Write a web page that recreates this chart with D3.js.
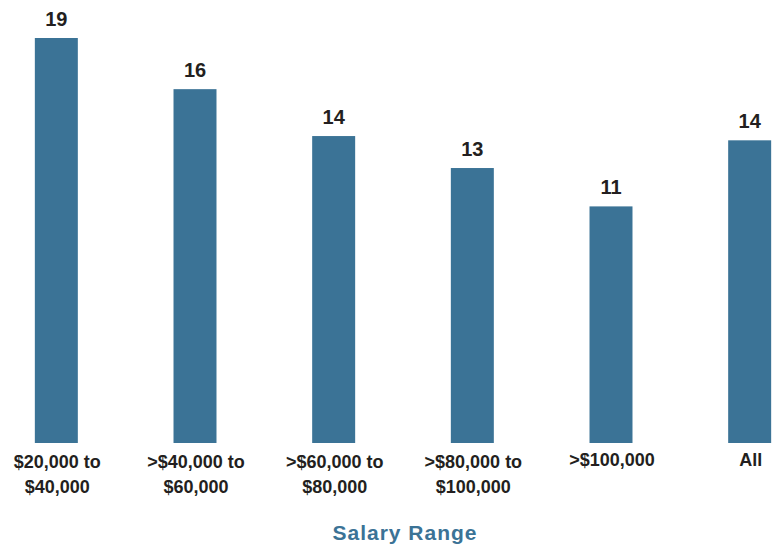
<!DOCTYPE html>
<html>
<head>
<meta charset="utf-8">
<title>Salary Range</title>
<script src="https://cdn.jsdelivr.net/npm/d3@7"></script>
<style>
  body { margin: 0; background: #fff; }
  text { font-family: "Liberation Sans Narrow", "Arial Narrow", sans-serif; font-weight: bold; }
</style>
</head>
<body>
<svg id="svg"></svg>
<script>
// data
var categories = ["$20,000 to|$40,000", ">$40,000 to|$60,000", ">$60,000 to|$80,000",
                  ">$80,000 to|$100,000", ">$100,000", "All"];
var values = [19, 16.6, 14.4, 12.9, 11.1, 14.2];
var valueLabels = ["19", "16", "14", "13", "11", "14"];
var axisTitle = "Salary Range";

var width = 776, height = 550;
var barColor = "#3b7396", textColor = "#231f20";

var svg = d3.select("#svg").attr("width", width).attr("height", height);

var x = d3.scaleBand()
    .domain(d3.range(categories.length))
    .range([-13, 819])
    .paddingInner(0.69)
    .paddingOuter(0.345);

var y = d3.scaleLinear().domain([0, 19]).range([443, 38]);

// bars
svg.selectAll("rect.bar")
  .data(values)
  .enter().append("rect")
  .attr("class", "bar")
  .attr("x", function(d, i) { return x(i); })
  .attr("y", function(d) { return y(d); })
  .attr("width", x.bandwidth())
  .attr("height", function(d) { return y(0) - y(d); })
  .attr("fill", barColor);

// value labels
svg.selectAll("text.val")
  .data(values)
  .enter().append("text")
  .attr("class", "val")
  .attr("x", function(d, i) { return x(i) + x.bandwidth() / 2; })
  .attr("y", function(d) { return y(d) - 12; })
  .attr("text-anchor", "middle")
  .attr("fill", textColor)
  .style("font-size", "20px")
  .text(function(d, i) { return valueLabels[i]; });

// category labels
var cat = svg.selectAll("text.cat")
  .data(categories)
  .enter().append("text")
  .attr("class", "cat")
  .attr("text-anchor", "middle")
  .attr("fill", textColor)
  .style("font-size", "18px")
  .attr("transform", function(d, i) {
    var lines = d.split("|");
    var top = lines.length > 1 ? 468 : 466;
    return "translate(" + (x(i) + x.bandwidth() / 2 + 1) + "," + top + ")";
  });

cat.selectAll("tspan")
  .data(function(d) { return d.split("|"); })
  .enter().append("tspan")
  .attr("x", 0)
  .attr("dy", function(d, i) { return i === 0 ? 0 : 25; })
  .text(function(d) { return d; });

// axis title
svg.append("text")
  .attr("x", 405)
  .attr("y", 540)
  .attr("text-anchor", "middle")
  .attr("fill", barColor)
  .style("font-size", "21px")
  .style("letter-spacing", "1px")
  .text(axisTitle);
</script>
</body>
</html>
